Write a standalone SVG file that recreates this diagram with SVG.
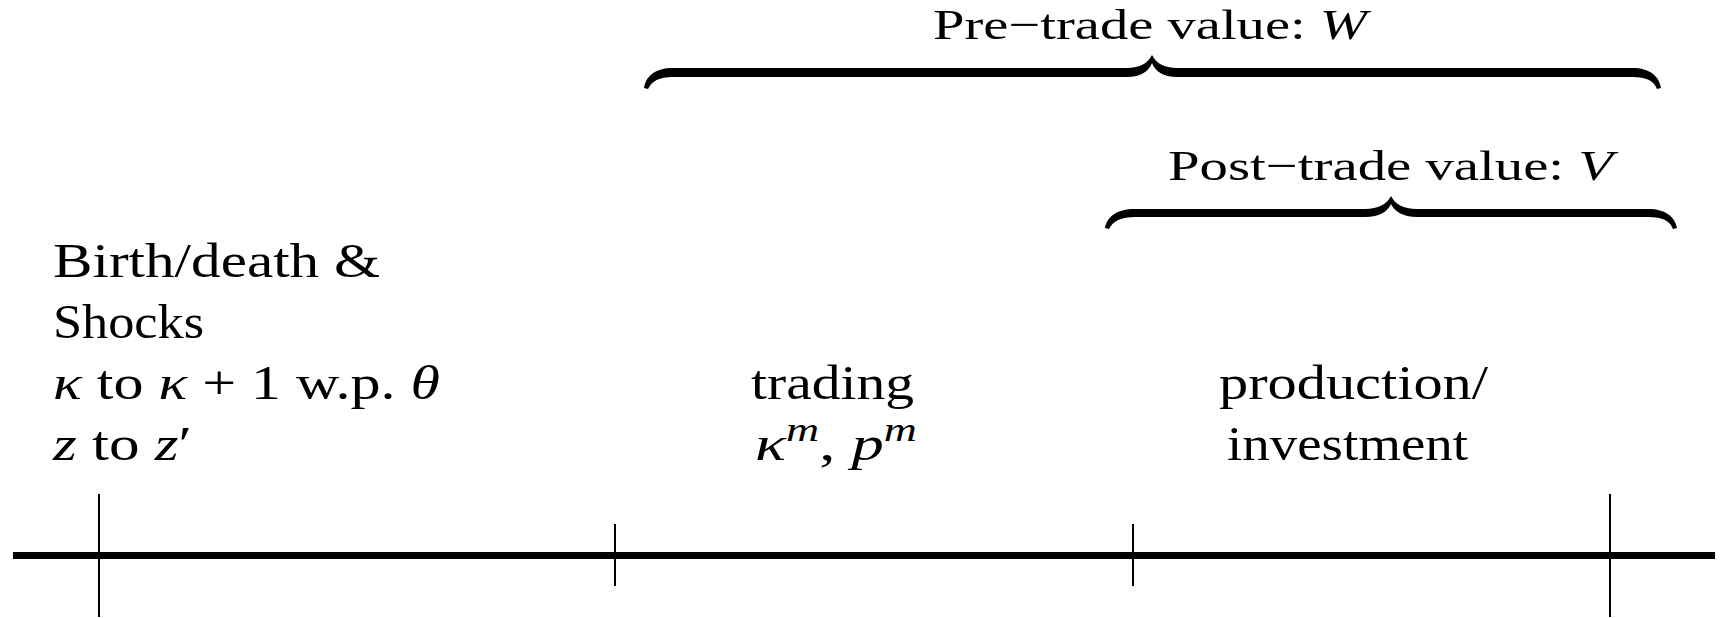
<svg xmlns="http://www.w3.org/2000/svg" width="1726" height="618" viewBox="0 0 1726 618">
<style>
text{font-family:"Liberation Serif","Times New Roman",serif;font-size:48px;fill:#000}
.lbl{font-size:43px}
.it{font-style:italic}
.sup{font-size:34px;font-style:italic}
.brace{fill:#000;stroke:none}
.axis{stroke:#000;stroke-width:7;fill:none}
.tick{stroke:#000;stroke-width:2;fill:none}
</style>
<rect width="1726" height="618" fill="#fff"/>
<g id="pre-trade">
<path class="brace" d="M644,88 C646,76 655,68 673,68 L1127,68 C1140,68 1148,63 1152,55 C1156,63 1164,68 1177,68 L1632,68 C1650,68 1659,76 1661,88 L1657,89 C1654,81 1647,77 1632,77 L1177,77 C1163,77 1155,71 1152,63 C1149,71 1141,77 1127,77 L673,77 C659,77 652,81 648,89 Z"/>
<text class="lbl" x="933" y="39" textLength="434" lengthAdjust="spacingAndGlyphs">Pre−trade value: <tspan class="it">W</tspan></text>
</g>
<g id="post-trade">
<path class="brace" d="M1105,228 C1107,217 1116,209 1135,209 L1365,209 C1378,209 1387,204 1391,196 C1395,204 1403,209 1417,209 L1648,209 C1666,209 1675,217 1677,228 L1673,229 C1670,221 1663,217 1648,217 L1417,217 C1403,217 1394,211 1391,204 C1388,211 1380,217 1365,217 L1135,217 C1121,217 1113,221 1109,229 Z"/>
<text class="lbl" x="1168" y="180" textLength="445" lengthAdjust="spacingAndGlyphs">Post−trade value: <tspan class="it">V</tspan></text>
</g>
<g id="birth-death">
<text x="53" y="277" textLength="327" lengthAdjust="spacingAndGlyphs">Birth/death &amp;</text>
<text x="53" y="338" textLength="151" lengthAdjust="spacingAndGlyphs">Shocks</text>
<text x="53" y="399" textLength="387" lengthAdjust="spacingAndGlyphs"><tspan class="it">κ</tspan> to <tspan class="it">κ</tspan> + 1 w.p.  <tspan class="it">θ</tspan></text>
<text x="53" y="460" textLength="139" lengthAdjust="spacingAndGlyphs"><tspan class="it">z</tspan> to <tspan class="it">z</tspan>′</text>
</g>
<g id="trading">
<text x="751" y="399" textLength="163" lengthAdjust="spacingAndGlyphs">trading</text>
<text x="755" y="460" textLength="162" lengthAdjust="spacingAndGlyphs"><tspan class="it">κ</tspan><tspan class="sup" dy="-19">m</tspan><tspan dy="19">, </tspan><tspan class="it">p</tspan><tspan class="sup" dy="-19">m</tspan></text>
</g>
<g id="production">
<text x="1219" y="399" textLength="269" lengthAdjust="spacingAndGlyphs">production/</text>
<text x="1227" y="460" textLength="241" lengthAdjust="spacingAndGlyphs">investment</text>
</g>
<g id="connectors">
<line class="axis" x1="13" y1="555.5" x2="1715" y2="555.5"/>
<line class="tick" x1="99" y1="494" x2="99" y2="617"/>
<line class="tick" x1="615" y1="524" x2="615" y2="586"/>
<line class="tick" x1="1133" y1="524" x2="1133" y2="586"/>
<line class="tick" x1="1610" y1="494" x2="1610" y2="617"/>
</g>
</svg>
